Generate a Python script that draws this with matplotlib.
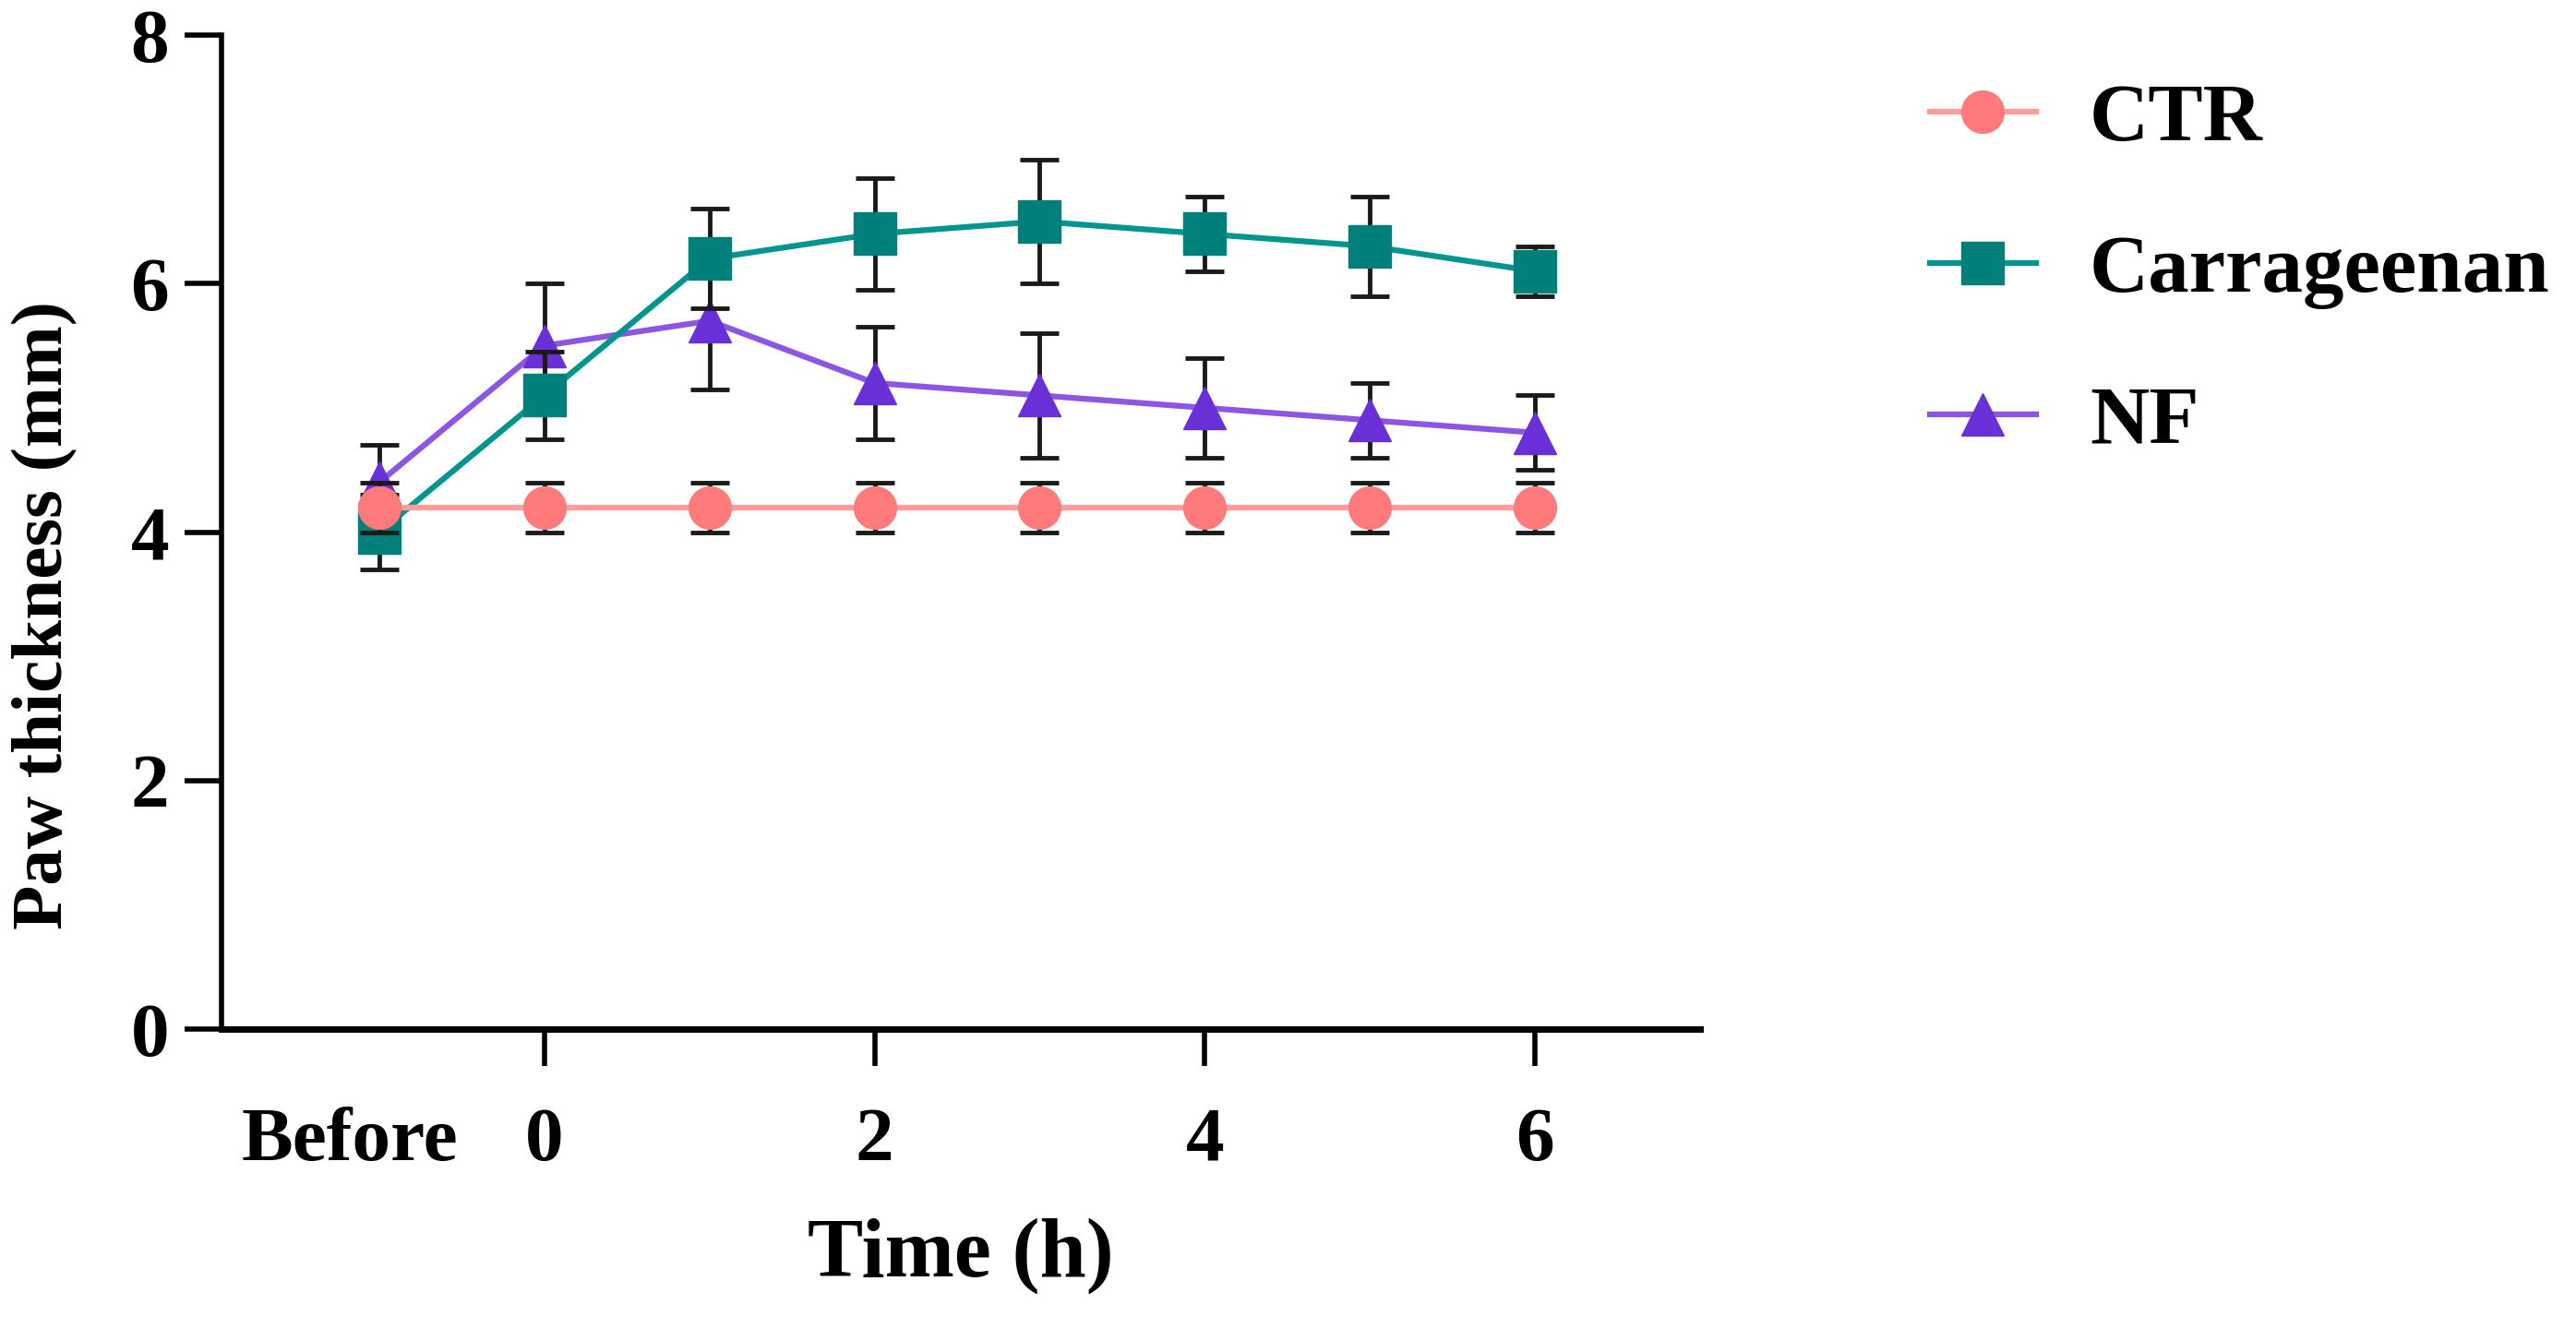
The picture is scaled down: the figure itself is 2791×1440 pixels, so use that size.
import numpy as np
import matplotlib
matplotlib.use('Agg')
import matplotlib.pyplot as plt

# time points: "Before" sits one step left of 0 h
times = [-1, 0, 1, 2, 3, 4, 5, 6]

ctr = [4.2, 4.2, 4.2, 4.2, 4.2, 4.2, 4.2, 4.2]
ctr_err = [0.2, 0.2, 0.2, 0.2, 0.2, 0.2, 0.2, 0.2]

carr = [4.0, 5.1, 6.2, 6.4, 6.5, 6.4, 6.3, 6.1]
carr_err = [0.3, 0.35, 0.4, 0.45, 0.5, 0.3, 0.4, 0.2]

nf = [4.4, 5.5, 5.7, 5.2, 5.1, 5.0, 4.9, 4.8]
nf_err = [0.3, 0.5, 0.55, 0.45, 0.5, 0.4, 0.3, 0.3]

xtick_vals = [0, 2, 4, 6]
xtick_labels = ['0', '2', '4', '6']
ytick_vals = [0, 2, 4, 6, 8]

plt.rcParams['font.family'] = ['Liberation Serif', 'DejaVu Serif']
plt.rcParams['font.weight'] = 'bold'
fs = 60

fig = plt.figure(figsize=(27.91, 14.40), dpi=100)
ax = fig.add_axes([0.086, 0.2257, 0.574, 0.7479])

series = [
    ('NF', nf, nf_err, '^', '#6A30D8', '#8C55E4', 2),
    ('Carrageenan', carr, carr_err, 's', '#007F7B', '#00958F', 3),
    ('CTR', ctr, ctr_err, 'o', '#FF7A7A', '#FF9C9C', 4),
]
handles = {}
for name, vals, err, mk, mcol, lcol, z in series:
    ax.errorbar(times, vals, yerr=err, fmt='none', ecolor='#1a1a1a',
                elinewidth=3.5, capsize=15, capthick=3.5, zorder=z)
    h, = ax.plot(times, vals, color=lcol, lw=4.5, marker=mk, ms=33,
                 mfc=mcol, mec=mcol, zorder=z + 0.5, label=name)
    handles[name] = h

ax.set_xlim(-1.955, 7.0)
ax.set_ylim(0, 8)

for s in ['top', 'right']:
    ax.spines[s].set_visible(False)
ax.spines['left'].set_linewidth(4)
ax.spines['bottom'].set_linewidth(5)

ax.set_yticks(ytick_vals)
ax.set_xticks(xtick_vals, labels=xtick_labels)
ax.set_xticks([-1.18], labels=['Before'], minor=True)
ax.tick_params(axis='both', which='major', length=29, width=4, labelsize=fs)
ax.tick_params(axis='y', which='major', pad=12)
ax.tick_params(axis='x', which='major', pad=32)
ax.tick_params(axis='x', which='minor', length=0, pad=61, labelsize=fs)

ax.set_ylabel('Paw thickness (mm)', fontsize=57, fontweight='bold')
ax.yaxis.set_label_coords(-0.097, 0.416)
ax.set_xlabel('Time (h)', fontsize=65, fontweight='bold')
ax.xaxis.set_label_coords(0.5, -0.19)

order = ['CTR', 'Carrageenan', 'NF']
ax.legend([handles[k] for k in order], order, loc='upper left',
          bbox_to_anchor=(1.133, 0.985), frameon=False, fontsize=64,
          handlelength=1.3, handletextpad=0.65, labelspacing=0.93,
          borderaxespad=0)

fig.savefig('out.png', dpi=100)
